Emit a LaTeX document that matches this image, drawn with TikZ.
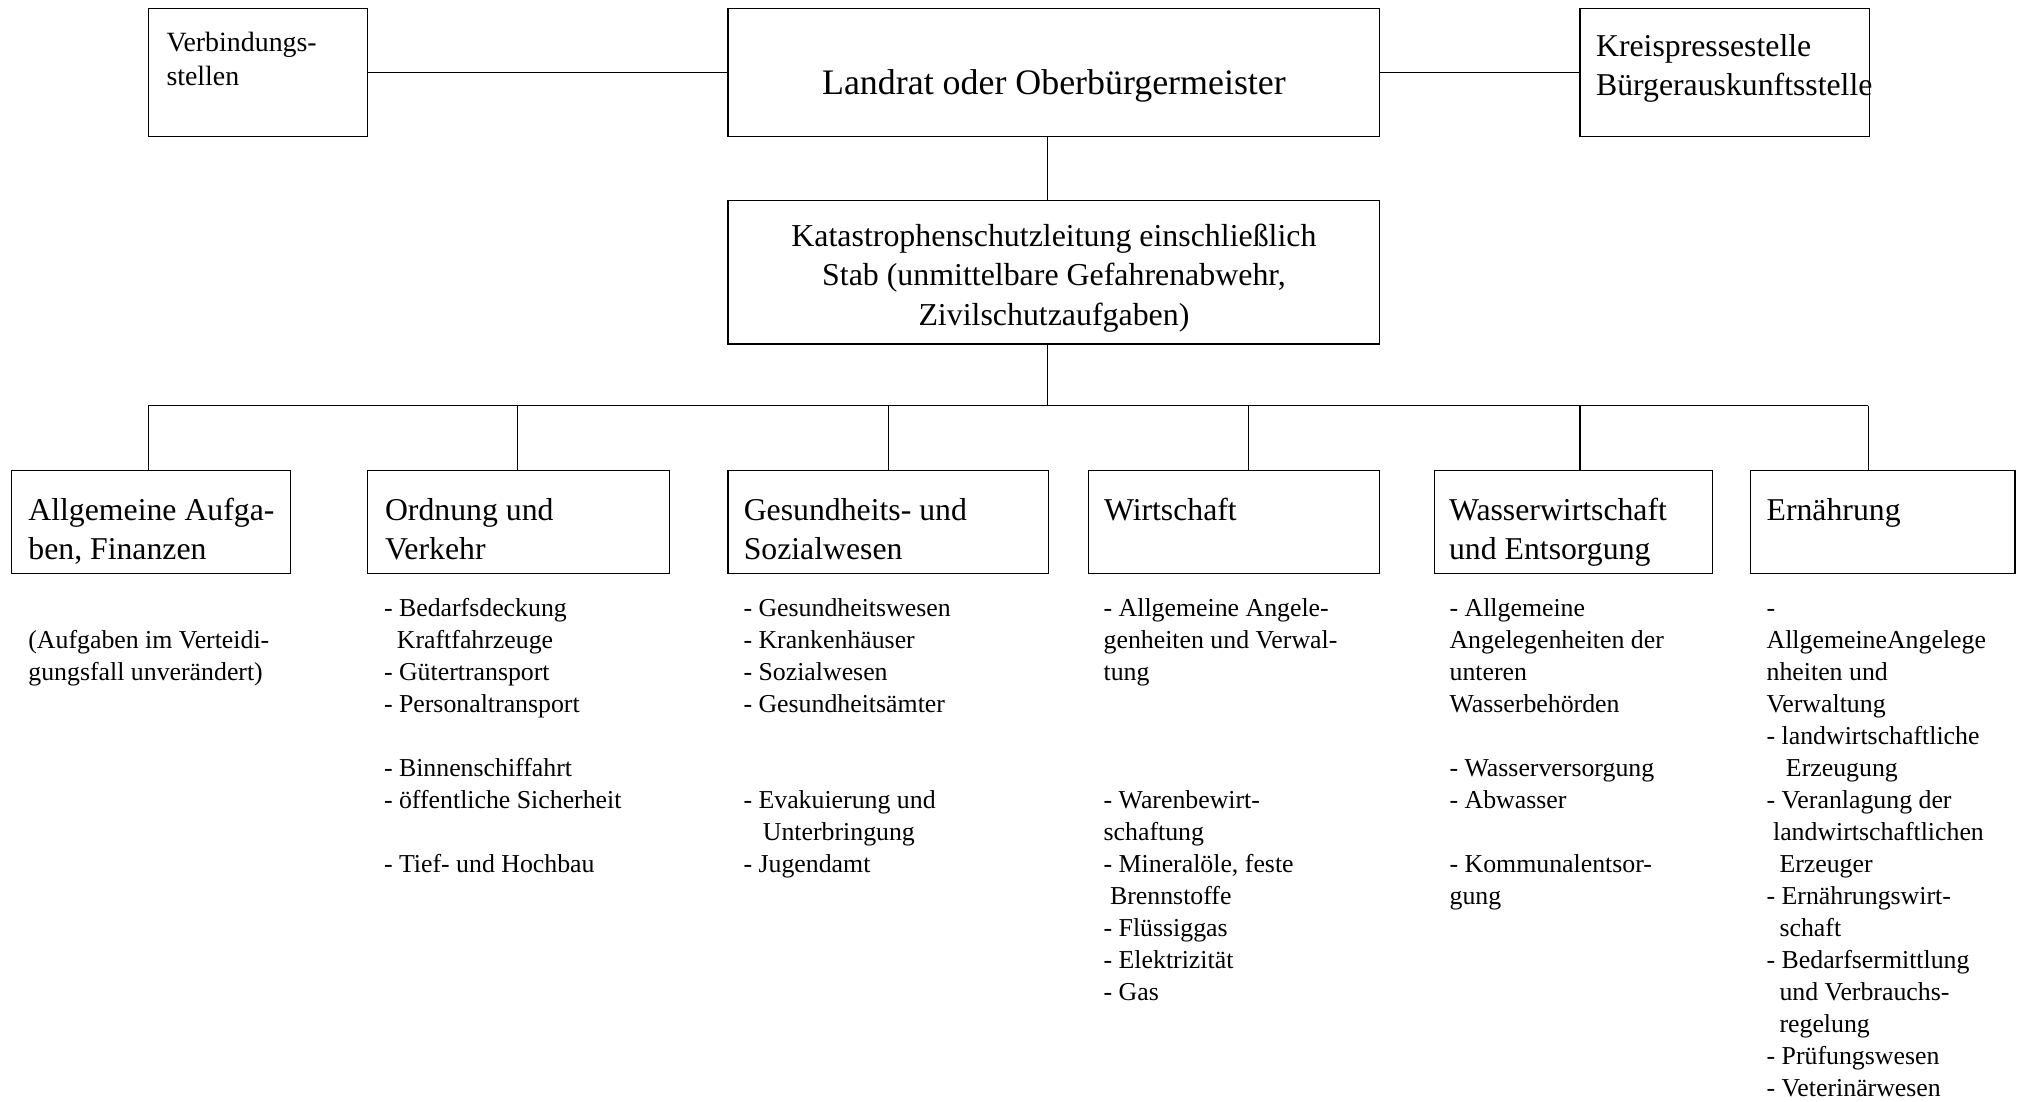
\documentclass[tikz,border=0pt]{standalone}
\usepackage{fontspec}
\setmainfont{Liberation Serif}
\tikzset{
  orgbox/.style={draw=black, line width=0.9pt, inner sep=0pt, outer sep=0pt, fill=none},
  conn/.style={draw=black, line width=0.9pt},
  txt/.style={inner sep=0pt, outer sep=0pt, anchor=base west},
  ctxt/.style={inner sep=0pt, outer sep=0pt, anchor=base},
}
\newcommand\blk[3]{\fontsize{#1pt}{#2pt}\selectfont\parbox[t]{#3pt}{\raggedright\strut}}
\newcommand\lines[4]{\parbox[t]{#3pt}{\fontsize{#1pt}{#2pt}\selectfont\raggedright #4}}
\newcommand\clines[4]{\parbox[t]{#3pt}{\fontsize{#1pt}{#2pt}\selectfont\centering #4}}
\newcommand\gapline{\\[24.8pt]}
\begin{document}
\begin{tikzpicture}[x=1pt,y=-1pt]
\fill[white] (0,0) rectangle (1568,853);
\useasboundingbox (0,0) rectangle (1568,853);

% top row boxes
\node[orgbox, minimum width=170pt, minimum height=99pt] (verb) at (200,56) {};
\node[orgbox, minimum width=505pt, minimum height=99pt] (landrat) at (816.5,56) {};
\node[orgbox, minimum width=224pt, minimum height=99pt] (kreis) at (1336,56) {};
\node[orgbox, minimum width=505pt, minimum height=111.3pt] (katas) at (816.5,210.85) {};

% bottom boxes
\node[orgbox, minimum width=216.5pt, minimum height=79.7pt] (ba) at (117,404.15) {};
\node[orgbox, minimum width=234pt, minimum height=79.7pt] (bb) at (401.7,404.15) {};
\node[orgbox, minimum width=248pt, minimum height=79.7pt] (bc) at (688,404.15) {};
\node[orgbox, minimum width=225.5pt, minimum height=79.7pt] (bd) at (955.75,404.15) {};
\node[orgbox, minimum width=215.6pt, minimum height=79.7pt] (be) at (1218.8,404.15) {};
\node[orgbox, minimum width=204.8pt, minimum height=79.7pt] (bf) at (1458.6,404.15) {};

% texts in top boxes
\node[txt] (verbt) at (129,40) {\lines{21.6}{26.6}{160}{Verbindungs-\\stellen}};
\node[ctxt] (landratt) at (816.5,73) {\fontsize{27.8pt}{33pt}\selectfont Landrat oder Oberbürgermeister};
\node[txt] (kreist) at (1236.5,43.9) {\lines{24.6}{29.7}{260}{Kreispressestelle\\Bürgerauskunftsstelle}};
\node[ctxt] (katast) at (816.5,191.1) {\clines{24.7}{30.35}{500}{Katastrophenschutzleitung einschließlich\\Stab (unmittelbare Gefahrenabwehr,\\Zivilschutzaufgaben)}};

% headings
\node[txt] (hat) at (22,402.9) {\lines{24.6}{30.9}{300}{Allgemeine Aufga-\\ben, Finanzen}};
\node[txt] (hbt) at (298.3,402.9) {\lines{24.6}{30.9}{300}{Ordnung und\\Verkehr}};
\node[txt] (hct) at (576.2,402.9) {\lines{24.6}{30.9}{300}{Gesundheits- und\\Sozialwesen}};
\node[txt] (hdt) at (855.3,402.9) {\lines{24.6}{30.9}{300}{Wirtschaft}};
\node[txt] (het) at (1122.6,402.9) {\lines{24.6}{30.9}{300}{Wasserwirtschaft\\und Entsorgung}};
\node[txt] (hft) at (1368.6,402.9) {\lines{24.6}{30.9}{300}{Ernährung}};

% lists
\node[txt] (la) at (22,502.5) {\lines{20}{24.8}{300}{(Aufgaben im Verteidi-\\gungsfall unverändert)}};
\node[txt] (lb) at (297.5,477.7) {\lines{20}{24.8}{300}{- Bedarfsdeckung\\\hspace*{10pt}Kraftfahrzeuge\\- Gütertransport\\- Personaltransport\gapline- Binnenschiffahrt\\- öffentliche Sicherheit\gapline- Tief- und Hochbau}};
\node[txt] (lc) at (576,477.7) {\lines{20}{24.8}{300}{- Gesundheitswesen\\- Krankenhäuser\\- Sozialwesen\\- Gesundheitsämter\\[49.6pt]- Evakuierung und\\\hspace*{15pt}Unterbringung\\- Jugendamt}};
\node[txt] (ld) at (855,477.7) {\lines{20}{24.8}{300}{- Allgemeine Angele-\\genheiten und Verwal-\\tung\\[74.4pt]- Warenbewirt-\\schaftung\\- Mineralöle, feste\\\hspace*{5pt}Brennstoffe\\- Flüssiggas\\- Elektrizität\\- Gas}};
\node[txt] (le) at (1123,477.7) {\lines{20}{24.8}{300}{- Allgemeine\\Angelegenheiten der\\unteren\\Wasserbehörden\gapline- Wasserversorgung\\- Abwasser\gapline- Kommunalentsor-\\gung}};
\node[txt] (lf) at (1368.6,477.7) {\lines{20}{24.8}{300}{-\\AllgemeineAngelege\\nheiten und\\Verwaltung\\- landwirtschaftliche\\\hspace*{15pt}Erzeugung\\- Veranlagung der\\\hspace*{5pt}landwirtschaftlichen\\\hspace*{10pt}Erzeuger\\- Ernährungswirt-\\\hspace*{10pt}schaft\\- Bedarfsermittlung\\\hspace*{10pt}und Verbrauchs-\\\hspace*{10pt}regelung\\- Prüfungswesen\\- Veterinärwesen}};

% connectors
\coordinate (j) at (811.5,314.3);
\coordinate (da) at (115,314.3);
\coordinate (db) at (401,314.3);
\coordinate (dc) at (688,314.3);
\coordinate (dd) at (967,314.3);
\coordinate (de) at (1224,314.3);
\coordinate (df) at (1447.4,314.3);
\draw[conn] (verb.east) -- (landrat.west);
\draw[conn] (landrat.east) -- (kreis.west);
\draw[conn] (landrat.south -| j) -- (katas.north -| j);
\draw[conn] (katas.south -| j) -- (j);
\draw[conn] (da) -- (df);
\draw[conn] (da) -- (ba.north -| da);
\draw[conn] (db) -- (bb.north -| db);
\draw[conn] (dc) -- (bc.north -| dc);
\draw[conn] (dd) -- (bd.north -| dd);
\draw[conn] (de) -- (be.north -| de);
\draw[conn] (df) -- (bf.north -| df);
\end{tikzpicture}
\end{document}
